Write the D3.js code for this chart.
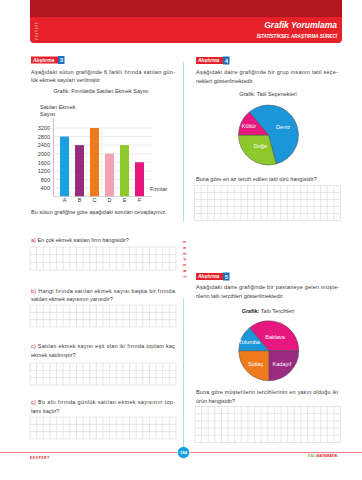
<!DOCTYPE html>
<html>
<head>
<meta charset="utf-8">
<script src="https://cdn.jsdelivr.net/npm/d3@7"></script>
<style>
  html, body { margin: 0; padding: 0; background: #fff; }
  svg { display: block; font-family: "Liberation Sans", Arial, sans-serif; }
</style>
</head>
<body>
<svg id="page" width="362" height="480"></svg>
<script>
// bar chart data (Alıştırma 3)
const bakeries = ["A", "B", "C", "D", "E", "F"];
const breadSold = [2800, 2400, 3200, 2000, 2400, 1600];
const barColors = ["#1ba1e2", "#952c7f", "#f07b1c", "#f5a3b4", "#8dc92b", "#e8177f"];
const breadTicks = [400, 800, 1200, 1600, 2000, 2400, 2800, 3200];

// pie chart data (Alıştırma 4), values in degrees
const holidays = ["Deniz", "Doğa", "Kültür"];
const holidayShare = [205, 105, 50];
const holidayColors = ["#1b96d9", "#8dc92b", "#e8177f"];

// pie chart data (Alıştırma 5), values in degrees
const desserts = ["Baklava", "Kadayıf", "Sütlaç", "Tulumba"];
const dessertShare = [130, 90, 90, 50];
const dessertColors = ["#e8177f", "#9b2a82", "#f07b1c", "#1b96d9"];

const svg = d3.select("#page");
const textColor = "#3a3a3a";
const red = "#e52229";

function txt(x, y, s, opts = {}) {
    const t = svg.append("text")
        .attr("x", x).attr("y", y)
        .attr("font-size", opts.size || 5.5)
        .attr("fill", opts.fill || textColor)
        .attr("text-anchor", opts.anchor || "start")
        .text(s);
    if (opts.weight) t.attr("font-weight", opts.weight);
    if (opts.style) t.attr("font-style", opts.style);
    if (opts.len) t.attr("textLength", opts.len).attr("lengthAdjust", "spacing");
    return t;
}

// ---------- header ----------
svg.append("rect").attr("x", 30).attr("y", -6).attr("width", 312).attr("height", 49)
    .attr("rx", 4).attr("fill", red);
svg.append("rect").attr("x", 30).attr("y", 0).attr("width", 312).attr("height", 17)
    .attr("fill", "#b0161d");
svg.append("text")
    .attr("transform", "translate(37.5,40) rotate(-90)")
    .attr("font-size", 2.6).attr("letter-spacing", 0.9)
    .attr("fill", "#f6b7ba").attr("font-weight", "bold")
    .text("EKSPERT");
txt(337, 27.5, "Grafik Yorumlama", {size: 8.5, fill: "#fff", weight: "bold", style: "italic", anchor: "end"});
txt(337, 37.5, "İSTATİSTİKSEL ARAŞTIRMA SÜRECİ", {size: 4.6, fill: "#fff", weight: "bold", style: "italic", anchor: "end"});

function badge(x, y, n) {
    svg.append("rect").attr("x", x).attr("y", y).attr("width", 27).attr("height", 7).attr("fill", red);
    svg.append("rect").attr("x", x + 27).attr("y", y - 0.5).attr("width", 6.5).attr("height", 8).attr("fill", "#1b6fc0");
    txt(x + 2, y + 5.4, "Alıştırma", {size: 5, fill: "#fff", weight: "bold", style: "italic"});
    txt(x + 30.3, y + 5.8, n, {size: 6, fill: "#fff", weight: "bold", anchor: "middle"});
}

// ---------- left column : Alıştırma 3 ----------
badge(31, 56.5, "3");
txt(31, 74, "Aşağıdaki sütun grafiğinde 6 farklı fırında satılan gün-", {len: 144});
txt(31, 81.5, "lük ekmek sayıları verilmiştir.");
txt(101, 92.5, "Grafik: Fırınlarda Satılan Ekmek Sayısı", {anchor: "middle"});
txt(40, 108.5, "Satılan Ekmek");
txt(40, 116, "Sayısı");

const y = d3.scaleLinear().domain([0, 3200]).range([196.5, 128]);
const x = d3.scaleBand().domain(bakeries).range([57, 147])
    .paddingInner(0.4).paddingOuter(0.2);

const chart = svg.append("g");
chart.selectAll("line.grid").data(breadTicks).join("line")
    .attr("class", "grid")
    .attr("x1", 53).attr("x2", 152)
    .attr("y1", d => y(d)).attr("y2", d => y(d))
    .attr("stroke", "#d9d9d9").attr("stroke-width", 0.5);

chart.append("g")
    .attr("transform", "translate(51,0)")
    .call(d3.axisLeft(y).tickValues(breadTicks).tickFormat(d3.format("d")).tickSize(0).tickPadding(1))
    .call(g => g.select(".domain").remove())
    .call(g => g.selectAll("text")
        .attr("font-size", 5.5).attr("fill", textColor)
        .attr("font-family", "Liberation Sans, Arial, sans-serif"));

chart.selectAll("rect.bar").data(breadSold).join("rect")
    .attr("class", "bar")
    .attr("x", (d, i) => x(bakeries[i]))
    .attr("y", d => y(d))
    .attr("width", x.bandwidth())
    .attr("height", d => y(0) - y(d))
    .attr("fill", (d, i) => barColors[i]);

chart.append("line")
    .attr("x1", 53).attr("x2", 152).attr("y1", y(0)).attr("y2", y(0))
    .attr("stroke", "#bdbdbd").attr("stroke-width", 0.6);
chart.append("line")
    .attr("x1", 53.5).attr("x2", 53.5).attr("y1", y(0)).attr("y2", y.range()[1] - 10)
    .attr("stroke", "#e9b6d2").attr("stroke-width", 1);

chart.append("g")
    .attr("transform", `translate(0,${y(0)})`)
    .call(d3.axisBottom(x).tickSize(0).tickPadding(1.5))
    .call(g => g.select(".domain").remove())
    .call(g => g.selectAll("text")
        .attr("font-size", 5.5).attr("fill", textColor)
        .attr("font-family", "Liberation Sans, Arial, sans-serif"));
txt(150, 191, "Fırınlar");

txt(31, 214, "Bu sütun grafiğine göre aşağıdaki soruları cevaplayınız.");

function grid(x0, y0, w, h, cols, rows) {
    const g = svg.append("g").attr("stroke", "#cfcfcf").attr("stroke-width", 0.5).attr("fill", "none");
    const cw = w / cols, rh = h / rows;
    d3.range(cols + 1).forEach(i => g.append("line")
        .attr("x1", x0 + i * cw).attr("x2", x0 + i * cw).attr("y1", y0).attr("y2", y0 + h));
    d3.range(rows + 1).forEach(j => g.append("line")
        .attr("x1", x0).attr("x2", x0 + w).attr("y1", y0 + j * rh).attr("y2", y0 + j * rh));
}

function question(xq, yq, letter, lines, len) {
    const t = txt(xq, yq, "", {});
    t.append("tspan").attr("fill", red).text(letter + ")");
    t.append("tspan").text(" " + lines[0]);
    if (len) t.attr("textLength", len).attr("lengthAdjust", "spacing");
    if (lines[1]) txt(xq, yq + 8.5, lines[1]);
}

question(31, 242, "a", ["En çok ekmek satılan fırın hangisidir?"]);
grid(30, 247, 146, 23, 22, 3);
question(31, 292.5, "b", ["Hangi fırında satılan ekmek sayısı başka bir fırında",
    "satılan ekmek sayısının yarısıdır?"], 144);
grid(30, 305, 146, 22, 22, 3);
question(31, 348, "c", ["Satılan ekmek sayısı eşit olan iki fırında toplam kaç",
    "ekmek satılmıştır?"], 144);
grid(30, 363, 146, 22, 22, 3);
question(31, 404, "ç", ["Bu altı fırında günlük satılan ekmek sayısının top-",
    "lamı kaçtır?"], 144);
grid(30, 417, 146, 22, 22, 3);

// ---------- right column ----------
svg.append("line").attr("x1", 183.5).attr("x2", 183.5).attr("y1", 62).attr("y2", 222)
    .attr("stroke", "#9fd3e6").attr("stroke-width", 0.8);
svg.append("line").attr("x1", 183.5).attr("x2", 183.5).attr("y1", 298).attr("y2", 452)
    .attr("stroke", "#9fd3e6").attr("stroke-width", 0.8);
svg.append("text")
    .attr("transform", "translate(183.5,241) rotate(90)")
    .attr("font-size", 3.6).attr("letter-spacing", 3.3)
    .attr("fill", red).attr("font-weight", "bold")
    .attr("dominant-baseline", "middle")
    .text("EKSPERT");

// Alıştırma 4
badge(196, 57, "4");
txt(196, 74, "Aşağıdaki daire grafiğinde bir grup insanın tatil seçe-", {len: 142});
txt(196, 83, "nekleri gösterilmektedir.");
txt(268, 96, "Grafik: Tatil Seçenekleri", {anchor: "middle"});

function drawPie(cx, cy, r, names, vals, colors, labelPos) {
    const pie = d3.pie().sort(null).startAngle(-40 * Math.PI / 180)
        .endAngle(320 * Math.PI / 180);
    const arcs = pie(vals);
    const arc = d3.arc().innerRadius(0).outerRadius(r);
    const g = svg.append("g").attr("transform", `translate(${cx},${cy})`);
    g.selectAll("path").data(arcs).join("path")
        .attr("d", arc)
        .attr("fill", (d, i) => colors[i])
        .attr("stroke", "#4a4a4a").attr("stroke-width", 0.5);
    g.selectAll("text").data(arcs).join("text")
        .attr("transform", (d, i) => {
            const c = d3.arc().innerRadius(r * labelPos[i]).outerRadius(r * labelPos[i]).centroid(d);
            return `translate(${c[0]},${c[1] + 2})`;
        })
        .attr("text-anchor", "middle")
        .attr("font-size", 5.5).attr("fill", "#fff")
        .text((d, i) => names[i]);
}

drawPie(268.5, 135, 30, holidays, holidayShare, holidayColors, [0.55, 0.45, 0.72]);

txt(196, 181, "Buna göre en az tercih edilen tatil türü hangisidir?");
grid(194.5, 185.5, 146, 35, 22, 5);

// Alıştırma 5
badge(196, 273, "5");
txt(196, 289, "Aşağıdaki daire grafiğinde bir pastaneye gelen müşte-", {len: 143});
txt(196, 298, "rilerin tatlı tercihleri gösterilmektedir.");
const gt = txt(268, 312.5, "", {anchor: "middle"});
gt.append("tspan").attr("font-weight", "bold").attr("fill", "#222").text("Grafik:");
gt.append("tspan").text(" Tatlı Tercihleri");

drawPie(268.8, 350.7, 30, desserts, dessertShare, dessertColors, [0.5, 0.62, 0.62, 0.72]);

txt(196, 394, "Buna göre müşterilerin tercihlerinin en yakın olduğu iki", {len: 142});
txt(196, 403, "ürün hangisidir?");
grid(195, 406.5, 145.5, 36, 22, 5);

// ---------- footer ----------
svg.append("line").attr("x1", 0).attr("x2", 177).attr("y1", 452.5).attr("y2", 452.5)
    .attr("stroke", "#ea5a64").attr("stroke-width", 0.8);
svg.append("line").attr("x1", 190).attr("x2", 362).attr("y1", 452.5).attr("y2", 452.5)
    .attr("stroke", "#ea5a64").attr("stroke-width", 0.8);
svg.append("circle").attr("cx", 183.5).attr("cy", 452.5).attr("r", 5.8).attr("fill", "#1ba1e2");
txt(183.5, 454.2, "194", {size: 4.2, fill: "#fff", weight: "bold", anchor: "middle"});
txt(30, 459, "EKSPERT", {size: 3.2, fill: red, weight: "bold"}).attr("letter-spacing", 0.7);
const edu = txt(308, 457, "", {size: 3.6, weight: "bold"});
edu.append("tspan").attr("fill", "#f0a020").text("E");
edu.append("tspan").attr("fill", "#1ba1e2").text("D");
edu.append("tspan").attr("fill", "#8dc92b").text("U ");
edu.append("tspan").attr("fill", red).text("MATEMATİK");
</script>
</body>
</html>
